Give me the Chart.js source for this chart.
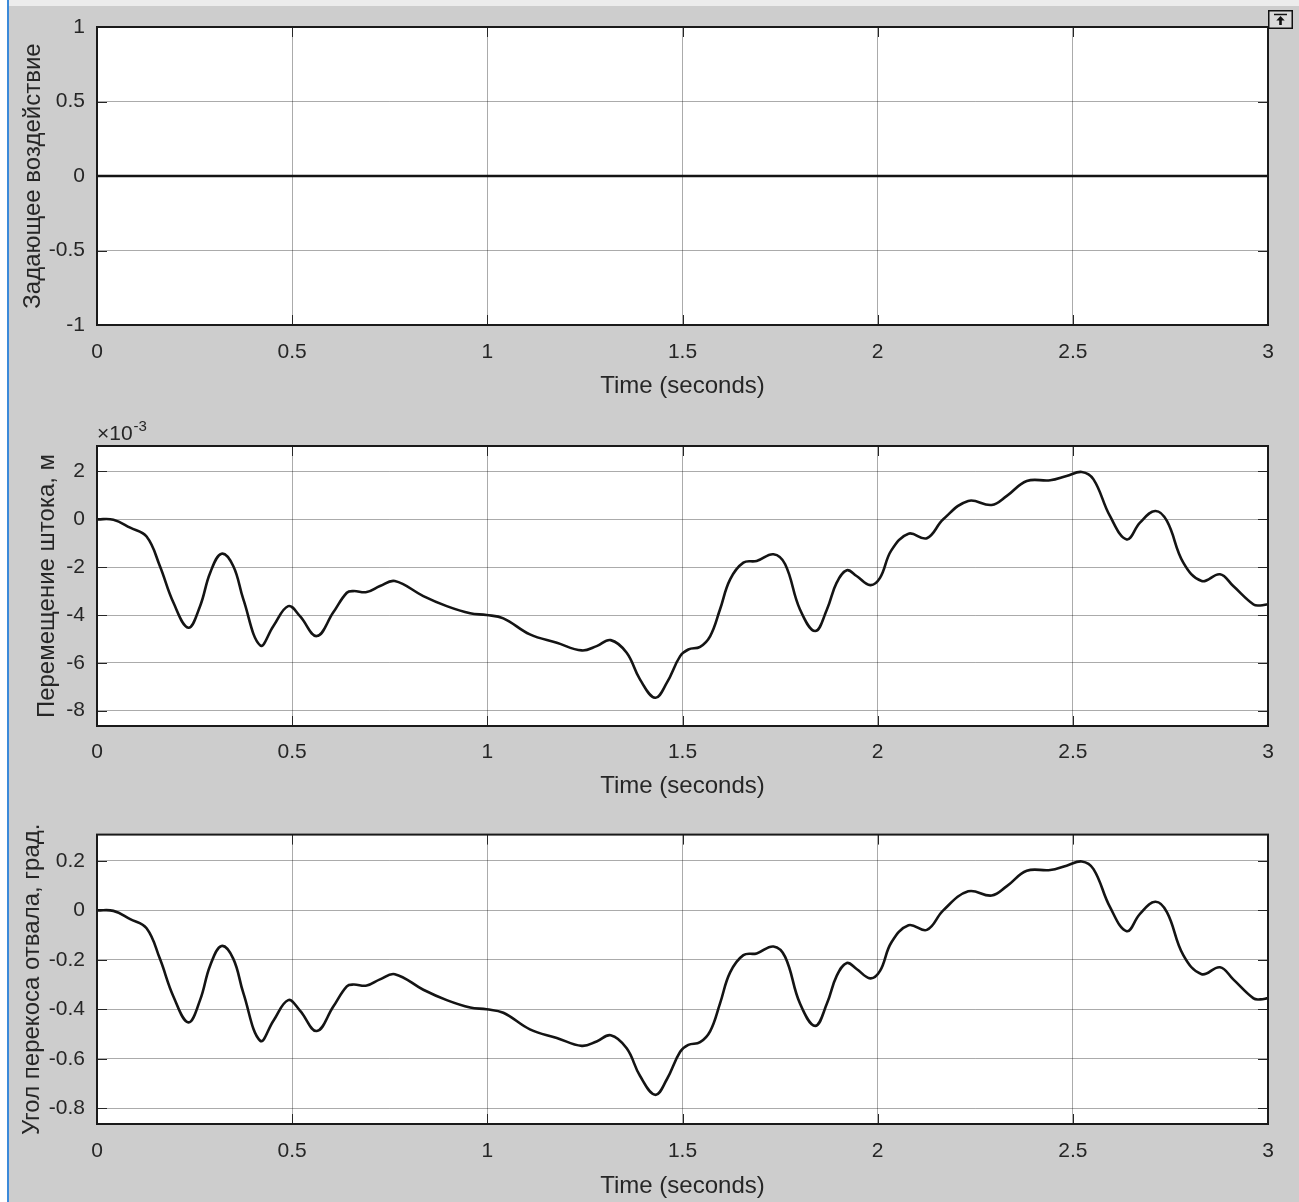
<!DOCTYPE html>
<html>
<head>
<meta charset="utf-8">
<script src="https://cdn.jsdelivr.net/npm/chart.js@4.4.1/dist/chart.umd.min.js"></script>
<style>
  html, body { margin: 0; padding: 0; }
  body { width: 1299px; height: 1202px; background: #cdcdcd; position: relative; overflow: hidden;
         font-family: "Liberation Sans", Arial, sans-serif; }
  canvas { position: absolute; left: 0; }
  #c1 { top: 0; } #c2 { top: 410px; } #c3 { top: 810px; }
  #topStrip { position: absolute; left: 0; top: 0; width: 1299px; height: 6px; background: #ececec; }
  #leftStrip { position: absolute; left: 0; top: 0; width: 7px; height: 1202px; background: #ffffff; }
  #leftLine { position: absolute; left: 7px; top: 0; width: 2px; height: 1202px; background: #3b8ad9; }
  #btn { position: absolute; left: 1268px; top: 10px; }
</style>
</head>
<body>
<div id="topStrip"></div>
<canvas id="c1" width="1299" height="410"></canvas>
<canvas id="c2" width="1299" height="400"></canvas>
<canvas id="c3" width="1299" height="392"></canvas>
<div id="leftStrip"></div>
<div id="leftLine"></div>
<svg id="btn" width="25" height="19" viewBox="0 0 25 19">
  <rect x="0.75" y="0.75" width="23.5" height="17.5" fill="#dadada" stroke="#111" stroke-width="1.5"/>
  <line x1="6" y1="4.5" x2="19" y2="4.5" stroke="#111" stroke-width="1.5"/>
  <path d="M12.5 6 L8.3 10.6 L11.2 10.6 L11.2 15 L13.8 15 L13.8 10.6 L16.7 10.6 Z" fill="#111"/>
</svg>
<script>
// ---------------- DATA ----------------
const xTickValues = [0, 0.5, 1, 1.5, 2, 2.5, 3];
const xTickLabels = ['0', '0.5', '1', '1.5', '2', '2.5', '3'];

// Subplot 1: setpoint (Задающее воздействие)
const timeSetpoint = [0, 3];
const setpointValues = [0, 0];
const yTicks1 = [-1, -0.5, 0, 0.5, 1];
const yLabels1 = ['-1', '-0.5', '0', '0.5', '1'];

// Time samples for the response signals (s)
const timeResponse = [
  0.000, 0.042, 0.085, 0.127, 0.161, 0.196, 0.234, 0.264, 0.290, 0.319,
  0.349, 0.375, 0.418, 0.452, 0.490, 0.520, 0.563, 0.605, 0.640, 0.657,
  0.691, 0.725, 0.763, 0.836, 0.896, 0.956, 0.998, 1.041, 1.109, 1.178,
  1.242, 1.280, 1.316, 1.357, 1.391, 1.430, 1.460, 1.494, 1.515, 1.545,
  1.571, 1.596, 1.622, 1.656, 1.690, 1.733, 1.763, 1.801, 1.840, 1.870,
  1.895, 1.921, 1.946, 1.981, 2.006, 2.035, 2.079, 2.126, 2.168, 2.232,
  2.292, 2.331, 2.382, 2.442, 2.484, 2.523, 2.553, 2.595, 2.638, 2.672,
  2.711, 2.741, 2.783, 2.830, 2.877, 2.911, 2.963, 2.980, 3.000
];

// Subplot 2: rod displacement, in units of 1e-3 m
const rodDisplacement_e3 = [
   0.00, -0.02, -0.35, -0.72, -1.95, -3.49, -4.53, -3.63, -2.23, -1.44,
  -1.95, -3.35, -5.27, -4.46, -3.63, -4.05, -4.88, -3.90, -3.07, -3.00,
  -3.04, -2.79, -2.58, -3.21, -3.63, -3.93, -4.00, -4.14, -4.81, -5.16,
  -5.48, -5.30, -5.05, -5.58, -6.69, -7.46, -6.83, -5.72, -5.44, -5.33,
  -4.88, -3.77, -2.51, -1.81, -1.74, -1.46, -1.88, -3.77, -4.67, -3.77,
  -2.65, -2.13, -2.37, -2.75, -2.45, -1.30, -0.60, -0.79,  0.00,  0.77,
   0.60,  0.98,  1.60,  1.63,  1.81,  1.98,  1.67,  0.14, -0.84, -0.14,
   0.35, -0.07, -1.81, -2.58, -2.30, -2.79, -3.56, -3.60, -3.55
];
const yTicks2 = [-8, -6, -4, -2, 0, 2];
const yLabels2 = ['-8', '-6', '-4', '-2', '0', '2'];

// Subplot 3: blade skew angle, degrees
const bladeSkewDeg = [
   0.000, -0.002, -0.035, -0.072, -0.195, -0.349, -0.453, -0.363, -0.223, -0.144,
  -0.195, -0.335, -0.527, -0.446, -0.363, -0.405, -0.488, -0.390, -0.307, -0.300,
  -0.304, -0.279, -0.258, -0.321, -0.363, -0.393, -0.400, -0.414, -0.481, -0.516,
  -0.548, -0.530, -0.505, -0.558, -0.669, -0.746, -0.683, -0.572, -0.544, -0.533,
  -0.488, -0.377, -0.251, -0.181, -0.174, -0.146, -0.188, -0.377, -0.467, -0.377,
  -0.265, -0.213, -0.237, -0.275, -0.245, -0.130, -0.060, -0.079,  0.000,  0.077,
   0.060,  0.098,  0.160,  0.163,  0.181,  0.198,  0.167,  0.014, -0.084, -0.014,
   0.035, -0.007, -0.181, -0.258, -0.230, -0.279, -0.356, -0.360, -0.355
];
const yTicks3 = [-0.8, -0.6, -0.4, -0.2, 0, 0.2];
const yLabels3 = ['-0.8', '-0.6', '-0.4', '-0.2', '0', '0.2'];

// Axis ranges
const xRange = [0, 3];
const yRange1 = [-1, 1];
const yRange2 = [-8.64, 3.065];
const yRange3 = [-0.864, 0.3065];

// ---------------- STYLE / DRAW ----------------
Chart.defaults.font.family = '"Liberation Sans", Arial, sans-serif';
Chart.defaults.color = '#262626';
const GRID = 'rgba(0,0,0,0.33)';
const TXT = '#262626';

const scopePlugin = {
  id: 'scopeFrame',
  beforeDraw(chart) {
    const { ctx, chartArea: a } = chart;
    ctx.save();
    ctx.fillStyle = '#ffffff';
    ctx.fillRect(a.left, a.top, a.right - a.left, a.bottom - a.top);
    ctx.restore();
  },
  beforeDatasetsDraw(chart) {
    const { ctx, chartArea: a, scales } = chart;
    const L = 10;
    ctx.save();
    ctx.strokeStyle = '#262626';
    ctx.lineWidth = 1;
    ctx.beginPath();
    scales.x.ticks.forEach(t => {
      const px = Math.round(scales.x.getPixelForValue(t.value)) + 0.5;
      ctx.moveTo(px, a.bottom); ctx.lineTo(px, a.bottom - L);
      ctx.moveTo(px, a.top); ctx.lineTo(px, a.top + L);
    });
    scales.y.ticks.forEach(t => {
      const py = Math.round(scales.y.getPixelForValue(t.value)) + 0.5;
      ctx.moveTo(a.left, py); ctx.lineTo(a.left + L, py);
      ctx.moveTo(a.right, py); ctx.lineTo(a.right - L, py);
    });
    ctx.stroke();
    ctx.restore();
  },
  afterDraw(chart) {
    const { ctx, chartArea: a } = chart;
    ctx.save();
    ctx.strokeStyle = '#1a1a1a';
    ctx.lineWidth = 2;
    ctx.strokeRect(a.left, a.top, a.right - a.left, a.bottom - a.top);
    const ex = chart.options.plugins.scopeFrame && chart.options.plugins.scopeFrame.exponent;
    if (ex) {
      ctx.fillStyle = TXT;
      ctx.textBaseline = 'alphabetic';
      ctx.textAlign = 'left';
      ctx.font = '21px "Liberation Sans", Arial, sans-serif';
      ctx.fillText('\u00d710', a.left, a.top - 6);
      const w = ctx.measureText('\u00d710').width;
      ctx.font = '15px "Liberation Sans", Arial, sans-serif';
      ctx.fillText(ex, a.left + w + 1, a.top - 15);
    }
    ctx.restore();
  }
};

function pts(xs, ys) { return xs.map((x, i) => ({ x: x, y: ys[i] })); }

function makeScope(id, cfg) {
  return new Chart(document.getElementById(id), {
    type: 'line',
    data: {
      datasets: [{
        data: pts(cfg.xs, cfg.ys),
        borderColor: '#141414',
        borderWidth: 2.6,
        pointRadius: 0,
        tension: 0.4,
        fill: false
      }]
    },
    options: {
      responsive: false,
      animation: false,
      devicePixelRatio: 1,
      layout: { padding: { top: cfg.padTop, right: 31, bottom: 0, left: 0 } },
      plugins: {
        legend: { display: false },
        tooltip: { enabled: false },
        scopeFrame: { exponent: cfg.exponent || null }
      },
      scales: {
        x: {
          type: 'linear', min: xRange[0], max: xRange[1],
          afterBuildTicks: s => { s.ticks = xTickValues.map(v => ({ value: v })); },
          afterFit: s => { s.height = cfg.xAxisH; },
          ticks: { autoSkip: false, maxRotation: 0, padding: cfg.xTickPad,
                   font: { size: 21 }, color: TXT, callback: (v, i) => xTickLabels[i] },
          grid: { color: GRID, lineWidth: 1, drawTicks: false },
          border: { display: false },
          title: { display: true, text: 'Time (seconds)', font: { size: 24 }, color: TXT,
                   padding: { top: 0, bottom: cfg.xTitlePad } }
        },
        y: {
          type: 'linear', min: cfg.yRange[0], max: cfg.yRange[1],
          afterBuildTicks: s => { s.ticks = cfg.yTicks.map(v => ({ value: v })); },
          afterFit: s => { s.width = 97; },
          ticks: { autoSkip: false, padding: 12, font: { size: 21 }, color: TXT,
                   callback: (v, i) => cfg.yLabels[i] },
          grid: { color: GRID, lineWidth: 1, drawTicks: false },
          border: { display: false },
          title: { display: true, text: cfg.yTitle, font: { size: 24 }, color: TXT,
                   padding: { top: cfg.yTitlePad, bottom: 0 } }
        }
      }
    },
    plugins: [scopePlugin]
  });
}

makeScope('c1', {
  xs: timeSetpoint, ys: setpointValues, yRange: yRange1, yTicks: yTicks1, yLabels: yLabels1,
  yTitle: 'Задающее воздействие', padTop: 27, xAxisH: 85, xTickPad: 15, xTitlePad: 9.6, yTitlePad: 18.6
});
makeScope('c2', {
  xs: timeResponse, ys: rodDisplacement_e3, yRange: yRange2, yTicks: yTicks2, yLabels: yLabels2,
  yTitle: 'Перемещение штока, м', padTop: 36, xAxisH: 84, xTickPad: 14, xTitlePad: 9.6, yTitlePad: 32.6,
  exponent: '-3'
});
makeScope('c3', {
  xs: timeResponse, ys: bladeSkewDeg, yRange: yRange3, yTicks: yTicks3, yLabels: yLabels3,
  yTitle: 'Угол перекоса отвала, град.', padTop: 17, xAxisH: 78, xTickPad: 15, xTitlePad: 1.6, yTitlePad: 17.6
});
</script>
</body>
</html>
